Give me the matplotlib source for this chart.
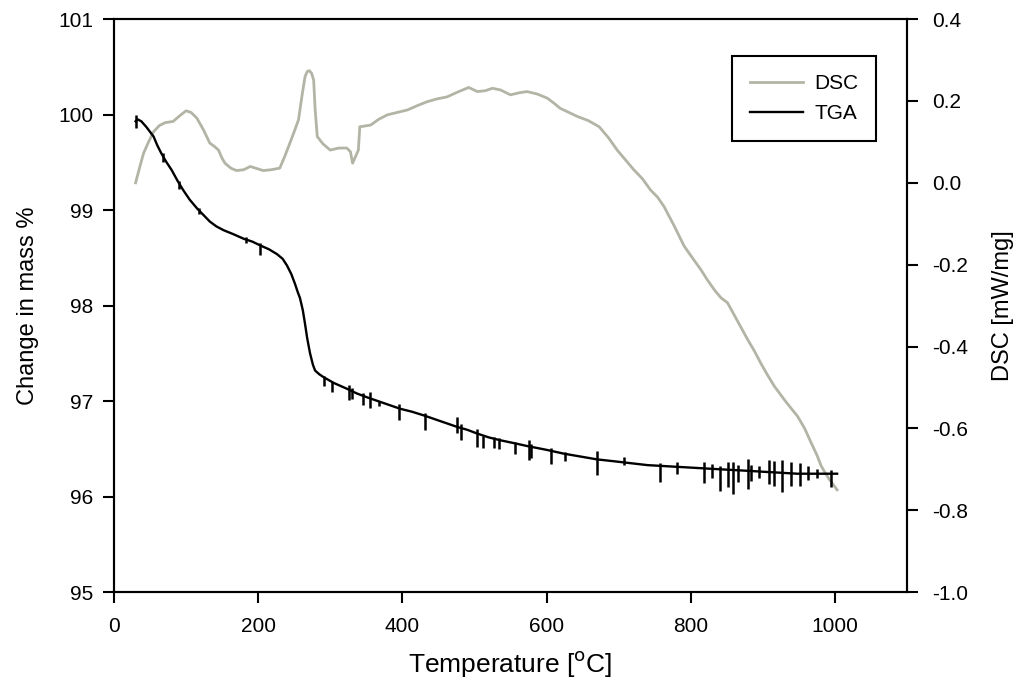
import matplotlib
matplotlib.use("Agg")
import matplotlib.pyplot as plt
from matplotlib.lines import Line2D

plt.rcParams['font.family'] = ['Liberation Sans', 'DejaVu Sans']

# DSC curve (right axis, mW/mg)
dsc_t = [30, 36, 41, 48, 55, 63, 71, 82, 92, 100, 107, 115, 124, 133, 140, 145,
         150, 154, 162, 170, 180, 189, 198, 207, 218, 230, 237, 244, 250, 256,
         261, 265, 268, 271, 274, 277, 279, 282, 290, 300, 312, 323, 328, 331,
         334, 339, 341, 356, 367, 379, 393, 407, 420, 434, 448, 462, 477, 492,
         504, 515, 525, 536, 550, 562, 573, 587, 601, 610, 619, 631, 643, 658,
         673, 686, 698, 710, 721, 733, 744, 754, 763, 777, 791, 803, 814, 823,
         833, 842, 851, 865, 879, 888, 897, 906, 916, 932, 948, 958, 967, 975,
         981, 987, 992, 998, 1003]
dsc_v = [0.0, 0.04, 0.072, 0.10, 0.125, 0.14, 0.147, 0.15, 0.165, 0.176, 0.172,
         0.158, 0.13, 0.097, 0.088, 0.08, 0.06, 0.048, 0.036, 0.03, 0.032, 0.04,
         0.035, 0.03, 0.032, 0.036, 0.065, 0.097, 0.125, 0.154, 0.215, 0.259,
         0.272, 0.274, 0.268, 0.251, 0.18, 0.113, 0.095, 0.08, 0.085, 0.085,
         0.076, 0.048, 0.06, 0.08, 0.137, 0.141, 0.155, 0.166, 0.172, 0.178,
         0.188, 0.198, 0.205, 0.21, 0.222, 0.233, 0.223, 0.225, 0.231, 0.227,
         0.215, 0.22, 0.223, 0.217, 0.207, 0.195, 0.182, 0.172, 0.162, 0.152,
         0.137, 0.11, 0.08, 0.055, 0.032, 0.01, -0.017, -0.035, -0.058, -0.105,
         -0.155, -0.185, -0.212, -0.237, -0.262, -0.281, -0.293, -0.338, -0.383,
         -0.41, -0.44, -0.468, -0.497, -0.535, -0.57, -0.6, -0.635, -0.665,
         -0.692, -0.71, -0.724, -0.738, -0.75]

# TGA curve (left axis, mass %)
tga_t = [30, 33, 38, 45, 50, 55, 60, 66, 73, 80, 88, 96, 105, 115, 124, 133,
         142, 152, 165, 180, 192, 203, 215, 226, 234, 240, 246, 251, 255, 258,
         262, 265, 268, 272, 276, 279, 285, 291, 305, 323, 337, 351, 374, 397,
         413, 430, 453, 476, 490, 504, 520, 536, 555, 573, 600, 624, 647, 670,
         694, 717, 740, 763, 786, 809, 832, 856, 880, 902, 925, 948, 975, 1003]
tga_v = [99.93, 99.95, 99.93, 99.87, 99.82, 99.77, 99.68, 99.59, 99.50, 99.42,
         99.31, 99.21, 99.11, 99.02, 98.95, 98.88, 98.83, 98.79, 98.75, 98.70,
         98.67, 98.63, 98.59, 98.54, 98.49, 98.42, 98.33, 98.23, 98.14, 98.08,
         97.95, 97.81, 97.66, 97.50, 97.38, 97.32, 97.28, 97.25, 97.19, 97.13,
         97.08, 97.04, 96.98, 96.92, 96.89, 96.85, 96.79, 96.73, 96.70, 96.66,
         96.62, 96.59, 96.56, 96.53, 96.49, 96.45, 96.42, 96.39, 96.37, 96.35,
         96.33, 96.32, 96.31, 96.30, 96.29, 96.28, 96.27, 96.26, 96.25, 96.24,
         96.24, 96.24]

# noise spikes on the TGA trace
spike_t = [31, 68, 90, 118, 183, 202, 291, 302, 326, 330, 345, 355, 367, 395,
           431, 476, 482, 504, 512, 527, 534, 556, 575, 578, 606, 626, 670, 708,
           757, 781, 819, 830, 841, 852, 858, 865, 880, 884, 895, 909, 916, 927,
           939, 952, 962, 975, 994]
spike_lo = [99.86, 99.50, 99.22, 98.96, 98.66, 98.53, 97.16, 97.10, 97.01,
            97.02, 96.96, 96.93, 96.95, 96.80, 96.70, 96.67, 96.59, 96.52, 96.51,
            96.51, 96.50, 96.45, 96.38, 96.40, 96.34, 96.37, 96.23, 96.33, 96.15,
            96.24, 96.14, 96.20, 96.06, 96.10, 96.03, 96.15, 96.08, 96.16, 96.20,
            96.13, 96.11, 96.05, 96.11, 96.11, 96.17, 96.19, 96.10]
spike_hi = [100.0, 99.60, 99.30, 99.02, 98.72, 98.66, 97.26, 97.20, 97.17,
            97.14, 97.08, 97.10, 97.00, 96.97, 96.88, 96.83, 96.76, 96.71, 96.64,
            96.62, 96.61, 96.57, 96.59, 96.55, 96.51, 96.47, 96.48, 96.42, 96.35,
            96.36, 96.36, 96.34, 96.32, 96.36, 96.36, 96.33, 96.39, 96.33, 96.32,
            96.38, 96.37, 96.38, 96.36, 96.35, 96.32, 96.29, 96.28]

x_ticks = [0, 200, 400, 600, 800, 1000]
left_ticks = [95, 96, 97, 98, 99, 100, 101]
right_ticks = [-1.0, -0.8, -0.6, -0.4, -0.2, 0.0, 0.2, 0.4]

dsc_color = '#b4b4a6'

fig = plt.figure(figsize=(10.22, 6.95), dpi=100)
ax = fig.add_axes([0.1115, 0.148, 0.776, 0.8245])
ax2 = ax.twinx()

ax2.plot(dsc_t, dsc_v, color=dsc_color, lw=2)
ax.plot(tga_t, tga_v, color='black', lw=1.7)
ax.vlines(spike_t, spike_lo, spike_hi, color='black', lw=1.8)

ax.set_zorder(ax2.get_zorder() + 1)
ax.patch.set_visible(False)

ax.set_xlim(0, 1100)
ax.set_ylim(95, 101)
ax2.set_ylim(-1.0, 0.4)
ax.set_xticks(x_ticks)
ax.set_yticks(left_ticks)
ax2.set_yticks(right_ticks)
ax2.set_yticklabels(['%.1f' % v for v in right_ticks])

ax.tick_params(axis='x', direction='out', length=8, width=1.5, labelsize=15, pad=10)
ax.tick_params(axis='y', direction='out', length=8, width=1.5, labelsize=15, pad=7)
ax2.tick_params(axis='y', direction='out', length=8, width=1.5, labelsize=15, pad=10)
for a in (ax, ax2):
    for s in a.spines.values():
        s.set_linewidth(1.5)

ax.set_xlabel('Temperature [$^\\mathrm{o}$C]', fontsize=19, labelpad=9)
ax.set_ylabel('Change in mass %', fontsize=17, labelpad=14)
ax2.set_ylabel('DSC [mW/mg]', fontsize=17, labelpad=17)

handles = [Line2D([], [], color=dsc_color, lw=2), Line2D([], [], color='black', lw=1.7)]
leg = ax.legend(handles, ['DSC', 'TGA'], loc='upper left', bbox_to_anchor=(0.7793, 0.9354),
                borderaxespad=0, fontsize=15, handlelength=2.55, handletextpad=0.55,
                fancybox=False, framealpha=1, edgecolor='black', borderpad=0.85,
                labelspacing=0.55)
leg.get_frame().set_linewidth(1.5)

fig.savefig('out.png', dpi=100)
